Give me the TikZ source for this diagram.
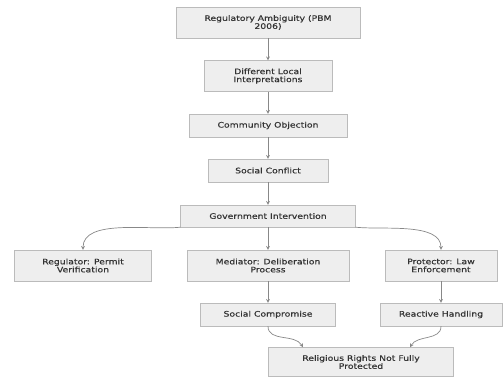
\documentclass[tikz,border=0pt]{standalone}
\usepackage{fontspec}
\setmainfont{DejaVu Sans}[FakeStretch=1.22, FakeBold=0.5]
\usetikzlibrary{shapes.geometric, arrows}
\usetikzlibrary{positioning}
\definecolor{boxfill}{HTML}{EEEEEE}
\definecolor{boxline}{HTML}{BBBBBB}
\definecolor{boxtext}{HTML}{333333}
\definecolor{linkgray}{HTML}{888888}
\tikzstyle{stage} = [rectangle, text centered, draw=boxline, fill=boxfill, text=boxtext, align=center, inner sep=2pt, font=\fontsize{7.6}{8}\selectfont]
\tikzstyle{flow} = [line width=0.7pt, linkgray, ->, >=stealth]

\begin{document}
\begin{tikzpicture}[x=1pt, y=-1pt]

    % page frame of the reference
    \useasboundingbox (0,0) rectangle (503,378);

    % main chain
    \node (ambiguity) [stage, minimum width=184pt, minimum height=31pt] at (268,22.5) {Regulatory Ambiguity (PBM\\2006)};
    \node (interp) [stage, minimum width=128pt, minimum height=31pt] at (268,76) {Different Local\\Interpretations};
    \node (objection) [stage, minimum width=158pt, minimum height=23pt] at (268,125.5) {Community Objection};
    \node (conflict) [stage, minimum width=120pt, minimum height=23pt] at (268,170.5) {Social Conflict};
    \node (gov) [stage, minimum width=175pt, minimum height=22pt] at (268,216) {Government Intervention};

    % roles of the government
    \node (regulator) [stage, minimum width=137pt, minimum height=31pt] at (83,265.5) {Regulator: Permit\\Verification};
    \node (mediator) [stage, minimum width=162pt, minimum height=31pt] at (268,265.5) {Mediator: Deliberation\\Process};
    \node (protector) [stage, minimum width=112pt, minimum height=31pt] at (441,265.5) {Protector: Law\\Enforcement};

    \node (compromise) [stage, minimum width=135pt, minimum height=23pt] at (268,314.5) {Social Compromise};
    \node (reactive) [stage, minimum width=122pt, minimum height=23pt] at (441,314.5) {Reactive Handling};

    \node (rights) [stage, minimum width=185pt, minimum height=29pt] at (361,362) {Religious Rights Not Fully\\Protected};

    \draw [flow] (ambiguity) -- (interp);
    \draw [flow] (interp) -- (objection);
    \draw [flow] (objection) -- (conflict);
    \draw [flow] (conflict) -- (gov);

    \draw [flow] (gov.south west) to[out=186, in=90, looseness=0.8] (regulator.north);
    \draw [flow] (gov) -- (mediator);
    \draw [flow] (gov.south east) to[out=-6, in=90, looseness=0.8] (protector.north);

    \draw [flow] (mediator) -- (compromise);
    \draw [flow] (protector) -- (reactive);

    \draw [flow] (compromise.south) to[out=-90, in=120] ([xshift=-58pt]rights.north);
    \draw [flow] (reactive.south) to[out=-90, in=60] ([xshift=49pt]rights.north);

\end{tikzpicture}
\end{document}
